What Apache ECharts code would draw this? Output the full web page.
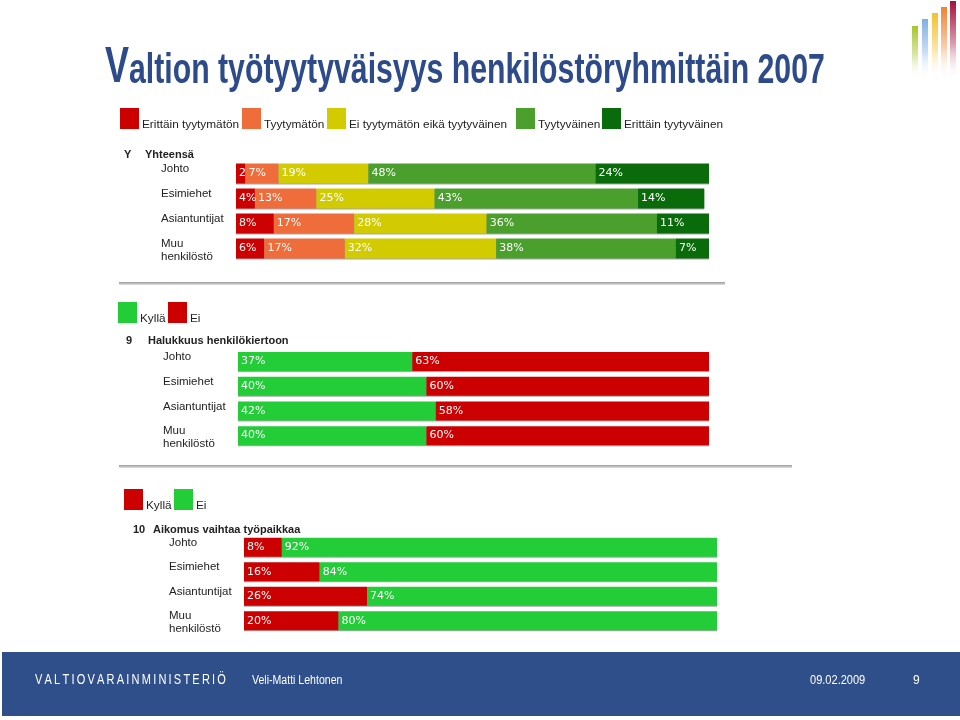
<!DOCTYPE html>
<html>
<head>
<meta charset="utf-8">
<script src="https://cdn.jsdelivr.net/npm/echarts@6/dist/echarts.min.js"></script>
<style>html,body{margin:0;padding:0;background:#fff}#c{width:960px;height:720px}</style>
</head>
<body>
<div id="c"></div>
<script>
// ---- data ----
const categories = ['Johto', 'Esimiehet', 'Asiantuntijat', 'Muu\nhenkilöstö'];
const satNames = ['Erittäin tyytymätön', 'Tyytymätön', 'Ei tyytymätön eikä tyytyväinen', 'Tyytyväinen', 'Erittäin tyytyväinen'];
const veryDissatisfied = [2, 4, 8, 6];
const dissatisfied = [7, 13, 17, 17];
const neutral = [19, 25, 28, 32];
const satisfied = [48, 43, 36, 38];
const verySatisfied = [24, 14, 11, 7];
const rotationYes = [37, 40, 42, 40];
const rotationNo = [63, 60, 58, 60];
const changeYes = [8, 16, 26, 20];
const changeNo = [92, 84, 74, 80];
const yesNo = ['Kyllä', 'Ei'];
const titleV = 'V';
const titleRest = 'altion työtyytyväisyys henkilöstöryhmittäin 2007';
const header1 = ['Y', 'Yhteensä'];
const header2 = ['9', 'Halukkuus henkilökiertoon'];
const header3 = ['10', 'Aikomus vaihtaa työpaikkaa'];
const footerOrg = 'VALTIOVARAINMINISTERIÖ';
const footerAuthor = 'Veli-Matti Lehtonen';
const footerDate = '09.02.2009';
const footerPage = '9';

// ---- styles / layout ----
const FONT = '"Liberation Sans", Arial, sans-serif';
const C = {
  red: '#cc0000', orange: '#ee6d3a', yellow: '#d2cb00', green: '#4b9f2c',
  dgreen: '#0a6b0a', bgreen: '#22cd38', text: '#222222', title: '#2d4b8a', band: '#2f4f8a'
};
const satColors = [C.red, C.orange, C.yellow, C.green, C.dgreen];
const satValues = [veryDissatisfied, dissatisfied, neutral, satisfied, verySatisfied];

const chart = echarts.init(document.getElementById('c'), null, {renderer: 'canvas'});

const grids = [
  {left: 236, width: 473, top: 161, height: 100},
  {left: 236, width: 473, top: 150, height: 100},
  {left: 238, width: 471, top: 349, height: 99},
  {left: 238, width: 471, top: 338, height: 99},
  {left: 244, width: 473, top: 535, height: 98},
  {left: 244, width: 473, top: 524, height: 98}
];

const xAxes = grids.map((g, i) => ({gridIndex: i, type: 'value', min: 0, max: 100, show: false}));
const yAxes = grids.map((g, i) => {
  const labelAxis = i % 2 === 1;
  return {
    gridIndex: i, type: 'category', data: categories, inverse: true,
    axisLine: {show: false}, axisTick: {show: false}, splitLine: {show: false},
    axisLabel: labelAxis ? {
      show: true, align: 'left', margin: 75, verticalAlign: 'top',
      fontSize: 11.5, lineHeight: 13, color: C.text, fontFamily: FONT
    } : {show: false}
  };
});

function barLabel() {
  return {
    show: true, position: 'insideLeft', distance: 3, color: '#fff',
    fontSize: 11, fontFamily: '"DejaVu Sans", Verdana, sans-serif',
    formatter: p => (p.value >= 3 ? p.value + '%' : String(p.value))
  };
}
function barStyle(color) {
  return {color: color, shadowColor: 'rgba(0,0,0,0.35)', shadowOffsetY: 1, shadowBlur: 0};
}

const series = [];
satNames.forEach((n, i) => {
  series.push({
    name: n, type: 'bar', stack: 's1', xAxisIndex: 0, yAxisIndex: 0,
    data: satValues[i], barWidth: 20, itemStyle: barStyle(satColors[i]), label: barLabel()
  });
});
series.push({name: yesNo[0], type: 'bar', stack: 's2', xAxisIndex: 2, yAxisIndex: 2,
  data: rotationYes, barWidth: 19, itemStyle: barStyle(C.bgreen), label: barLabel()});
series.push({name: yesNo[1], type: 'bar', stack: 's2', xAxisIndex: 2, yAxisIndex: 2,
  data: rotationNo, barWidth: 19, itemStyle: barStyle(C.red), label: barLabel()});
series.push({name: yesNo[0], type: 'bar', stack: 's3', xAxisIndex: 4, yAxisIndex: 4,
  data: changeYes, barWidth: 19, itemStyle: barStyle(C.red), label: barLabel()});
series.push({name: yesNo[1], type: 'bar', stack: 's3', xAxisIndex: 4, yAxisIndex: 4,
  data: changeNo, barWidth: 19, itemStyle: barStyle(C.bgreen), label: barLabel()});

function legendItem(name, color, left, top) {
  return {
    data: [{name: name, itemStyle: {color: color}}], left: left, top: top, padding: 0,
    icon: 'rect', itemWidth: 19, itemHeight: 21, selectedMode: false,
    formatter: n => '{t|' + n + '}',
    textStyle: {
      fontSize: 11.8, color: C.text, fontFamily: FONT,
      rich: {t: {fontSize: 11.8, color: C.text, fontFamily: FONT, padding: [13, 0, 0, -2]}}
    }
  };
}
const legendLeft1 = [120, 242, 327, 516, 602];
const legends = satNames.map((n, i) => legendItem(n, satColors[i], legendLeft1[i], 108));
legends.push(legendItem(yesNo[0], C.bgreen, 118, 302));
legends.push(legendItem(yesNo[1], C.red, 168, 302));
legends.push(legendItem(yesNo[0], C.red, 124, 489));
legends.push(legendItem(yesNo[1], C.bgreen, 174, 489));

function htext(x, y, t, bold) {
  return {type: 'text', x: x, y: y, style: {text: t, fill: C.text, font: (bold ? 'bold ' : '') + '11px ' + FONT, verticalAlign: 'middle'}};
}
function grad(c) {
  return new echarts.graphic.LinearGradient(0, 0, 0, 1, [
    {offset: 0, color: c}, {offset: 0.55, color: echarts.color.modifyAlpha(c, 0.4)}, {offset: 1, color: 'rgba(255,255,255,0)'}
  ]);
}
const logo = [
  {x: 912, y: 26, c: '#a6c62c'}, {x: 922, y: 19, c: '#7fb0e2'}, {x: 932, y: 13, c: '#f4c02c'},
  {x: 941, y: 7, c: '#ee8430'}, {x: 950, y: 1, c: '#a5103e'}
];
function sepGrad() {
  return new echarts.graphic.LinearGradient(0, 0, 0, 1, [
    {offset: 0, color: '#9a9a9a'}, {offset: 0.5, color: '#bdbdbd'}, {offset: 1, color: '#e4e4e4'}
  ]);
}

const graphics = [
  // title
  {type: 'text', x: 105, y: 93, scaleX: 0.72, style: {text: titleV, fill: C.title, font: 'bold 50px ' + FONT, verticalAlign: 'bottom'}},
  {type: 'text', x: 129, y: 92, scaleX: 0.72, style: {text: titleRest, fill: C.title, font: 'bold 42px ' + FONT, verticalAlign: 'bottom'}},
  // headers
  htext(124, 155, header1[0], true), htext(145, 155, header1[1], true),
  htext(126, 341, header2[0], true), htext(148, 341, header2[1], true),
  htext(133, 530, header3[0], true), htext(153, 530, header3[1], true),
  // separators
  {type: 'rect', shape: {x: 119, y: 282, width: 606, height: 3}, style: {fill: sepGrad()}},
  {type: 'rect', shape: {x: 119, y: 465, width: 673, height: 3}, style: {fill: sepGrad()}},
  // footer band
  {type: 'rect', shape: {x: 2, y: 652, width: 958, height: 64}, style: {fill: C.band}},
  {type: 'text', x: 35, y: 680, scaleX: 0.735, style: {text: footerOrg.split('').join('\u2009'), fill: '#fff', font: '15px ' + FONT, verticalAlign: 'middle'}},
  {type: 'text', x: 252, y: 681, scaleX: 0.88, style: {text: footerAuthor, fill: '#fff', font: '12px ' + FONT, verticalAlign: 'middle'}},
  {type: 'text', x: 810, y: 681, scaleX: 0.92, style: {text: footerDate, fill: '#fff', font: '12px ' + FONT, verticalAlign: 'middle'}},
  {type: 'text', x: 913, y: 681, style: {text: footerPage, fill: '#fff', font: '12px ' + FONT, verticalAlign: 'middle'}}
].concat(logo.map(b => ({type: 'rect', shape: {x: b.x, y: b.y, width: 6, height: 80 - b.y}, style: {fill: grad(b.c)}})));

chart.setOption({
  backgroundColor: '#ffffff',
  animation: false,
  grid: grids,
  xAxis: xAxes,
  yAxis: yAxes,
  legend: legends,
  series: series,
  graphic: graphics
});
</script>
</body>
</html>
